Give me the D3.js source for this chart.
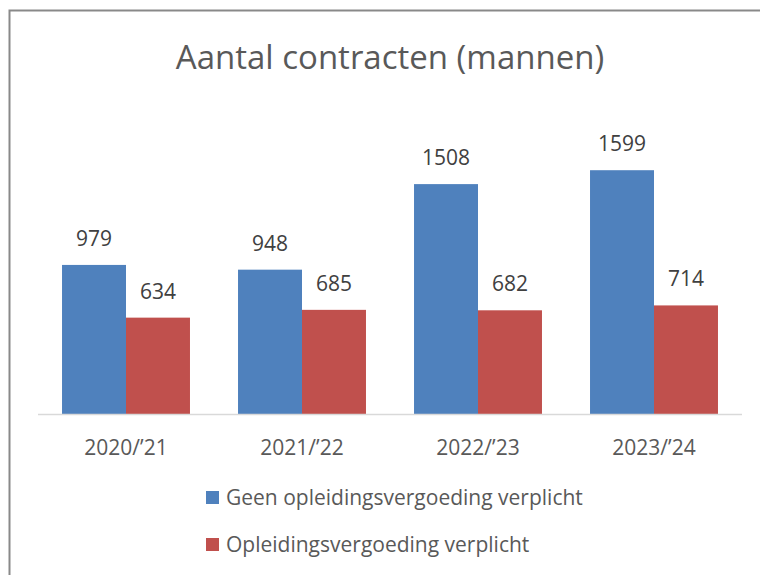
<!DOCTYPE html>
<html>
<head>
<meta charset="utf-8">
<script src="https://cdn.jsdelivr.net/npm/d3@7/dist/d3.min.js"></script>
<style>
  html, body { margin: 0; padding: 0; background: #fff; }
  svg { display: block; }
  text { font-family: "Open Sans", Lato, sans-serif; }
</style>
</head>
<body>
<svg id="chart" width="760" height="575"></svg>
<script>
// Schooljaren en aantallen contracten per type
const categories = ["2020/\u201921", "2021/\u201922", "2022/\u201923", "2023/\u201924"];
const seriesNames = ["Geen opleidingsvergoeding verplicht", "Opleidingsvergoeding verplicht"];
const geenVergoeding = [979, 948, 1508, 1599];
const welVergoeding = [634, 685, 682, 714];
const seriesColors = ["#4F81BD", "#C0504D"];
const titleText = "Aantal contracten (mannen)";

const series = [geenVergoeding, welVergoeding];

const svg = d3.select("#chart");
const W = 760, H = 575;

// Kader rond de grafiek
svg.append("rect")
  .attr("x", 9.5).attr("y", 10.5)
  .attr("width", W + 10).attr("height", H + 10)
  .attr("fill", "none").attr("stroke", "#898989").attr("stroke-width", 2);

// Titel
svg.append("text")
  .attr("x", 390).attr("y", 69)
  .attr("text-anchor", "middle")
  .attr("font-size", 33)
  .attr("fill", "#595959")
  .text(titleText);

const plotLeft = 38, plotRight = 742, baseY = 414.5, topY = 139.5;

const x0 = d3.scaleBand().domain(categories).range([plotLeft, plotRight])
  .paddingInner(0.273).paddingOuter(0.1365);
const x1 = d3.scaleBand().domain(d3.range(series.length)).range([0, x0.bandwidth()]);
const y = d3.scaleLinear().domain([0, 1800]).range([baseY, topY]);

const groups = svg.append("g").selectAll("g")
  .data(categories)
  .join("g")
  .attr("transform", d => `translate(${x0(d)},0)`);

groups.selectAll("rect")
  .data((c, i) => series.map((s, k) => ({ k, v: s[i] })))
  .join("rect")
  .attr("x", d => x1(d.k))
  .attr("y", d => y(d.v))
  .attr("width", x1.bandwidth())
  .attr("height", d => y(0) - y(d.v))
  .attr("fill", d => seriesColors[d.k]);

groups.selectAll("text.val")
  .data((c, i) => series.map((s, k) => ({ k, v: s[i] })))
  .join("text")
  .attr("class", "val")
  .attr("x", d => x1(d.k) + x1.bandwidth() / 2)
  .attr("y", d => y(d.v) - 19)
  .attr("text-anchor", "middle")
  .attr("font-size", 21)
  .attr("fill", "#404040")
  .text(d => d.v);

// Categorie-as
const xAxis = svg.append("g")
  .attr("transform", `translate(0,${baseY})`)
  .call(d3.axisBottom(x0).tickSize(0).tickPadding(0));
xAxis.select(".domain").attr("stroke", "#d9d9d9").attr("stroke-width", 1.5)
  .attr("d", `M${plotLeft},0H${plotRight}`);
xAxis.selectAll("text")
  .attr("dy", 0)
  .attr("y", 40)
  .attr("font-size", 21)
  .attr("font-family", "'Open Sans', sans-serif")
  .attr("fill", "#595959");

// Legenda
const legend = svg.append("g").selectAll("g")
  .data(seriesNames)
  .join("g")
  .attr("transform", (d, i) => `translate(206,${491 + i * 47})`);
legend.append("rect")
  .attr("width", 13).attr("height", 13)
  .attr("fill", (d, i) => seriesColors[i]);
legend.append("text")
  .attr("x", 20).attr("y", 14)
  .attr("font-size", 21)
  .attr("fill", "#595959")
  .text(d => d);
</script>
</body>
</html>
